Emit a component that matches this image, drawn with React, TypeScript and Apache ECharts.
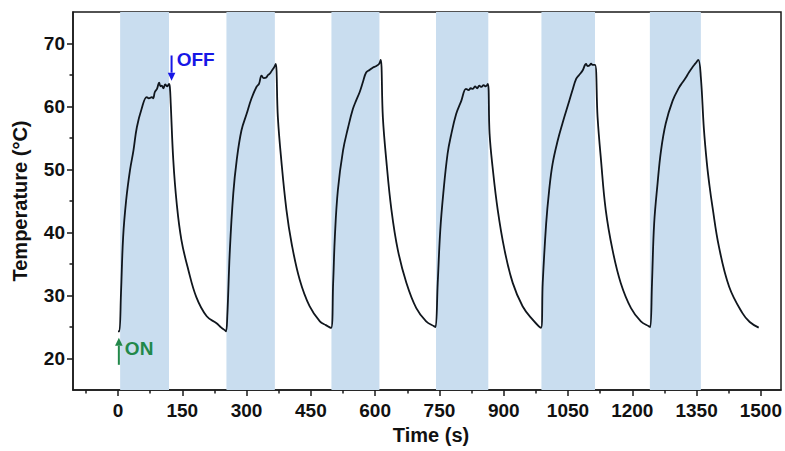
import React, { useEffect, useRef } from "react";
import * as echarts from "echarts";

// Measured temperature trace (s, °C)
const timeS = [
  0, 3, 7, 12, 19, 28, 36, 44, 55, 67, 72, 79, 82, 86, 91, 96, 99, 102, 106, 110, 115, 119, 121,
  123, 129, 137, 148, 164, 183, 207, 230, 241, 249, 252,
  255, 261, 269, 277, 288, 300, 311, 323, 329, 335, 340, 346, 350, 354, 360, 364, 368,
  373, 381, 393, 405, 424, 447, 471, 485, 497,
  502, 506, 513, 525, 537, 548, 556, 564, 572, 579, 587, 595, 602, 609, 613,
  618, 626, 638, 653, 673, 696, 719, 738, 741,
  746, 752, 759, 769, 777, 789, 801, 812, 818, 823, 828, 833, 838, 843, 848, 853, 858, 863,
  867, 874, 886, 902, 921, 944, 967, 987,
  991, 999, 1006, 1014, 1026, 1037, 1053, 1060, 1069, 1076, 1084, 1092, 1096, 1100, 1104, 1107, 1113,
  1119, 1127, 1138, 1154, 1173, 1197, 1220, 1239,
  1242, 1246, 1251, 1259, 1267, 1278, 1294, 1309, 1317, 1325, 1332, 1340, 1347, 1354,
  1360, 1367, 1374, 1380, 1387, 1402, 1426, 1457, 1474, 1495
];
const tempC = [
  24.3, 24.3, 30.4, 39.3, 45.1, 49.9, 53.0, 56.7, 59.6, 61.5, 61.3, 61.5, 61.3, 62.3, 62.8, 63.8, 63.2, 63.3, 62.9, 63.5, 63.2, 63.6, 63.1,
  60.5, 51.5, 44.6, 38.8, 34.1, 29.7, 26.7, 25.6, 24.9, 24.5, 24.3,
  26.7, 37.2, 46.2, 51.5, 56.2, 58.8, 61.2, 63.1, 63.6, 64.9, 64.5, 64.6, 65.0, 65.2, 65.8, 66.2, 66.75,
  58.3, 51.5, 43.6, 38.3, 32.5, 28.3, 25.9, 25.3, 24.85,
  32.0, 39.3, 46.7, 53.0, 56.7, 59.6, 61.0, 62.3, 64.0, 65.4, 65.8, 66.2, 66.4, 66.75, 67.4,
  58.3, 51.5, 43.6, 37.2, 32.0, 28.0, 25.9, 25.1, 25.0,
  32.0, 40.4, 46.2, 52.5, 55.4, 58.8, 60.9, 62.8, 62.6, 62.9, 62.8, 63.2, 62.9, 63.3, 63.1, 63.4, 63.2, 63.6,
  55.7, 50.4, 43.6, 37.2, 32.0, 28.3, 26.2, 24.85,
  32.0, 41.4, 46.7, 50.9, 54.6, 57.3, 60.9, 62.5, 64.4, 65.0, 65.7, 66.75, 66.4, 66.5, 66.8, 66.6, 66.6,
  58.3, 51.5, 43.6, 37.2, 32.0, 28.0, 25.9, 25.1,
  25.0, 32.0, 41.4, 47.8, 53.0, 57.3, 60.9, 63.0, 63.8, 64.6, 65.4, 66.2, 66.8, 67.4,
  64.6, 56.5, 51.0, 47.5, 44.1, 37.8, 31.4, 27.2, 25.8, 24.9
];

// Laser ON intervals (s)
const onStart = [5, 253, 498, 742, 988, 1241];
const onEnd = [119, 366, 610, 864, 1113, 1360];

// Axis ticks
const xTicks = [0, 150, 300, 450, 600, 750, 900, 1050, 1200, 1350, 1500];
const xMinorTicks = [-75, 75, 225, 375, 525, 675, 825, 975, 1125, 1275, 1425];
const yTicks = [20, 30, 40, 50, 60, 70];
const yMinorTicks = [25, 35, 45, 55, 65];

// Annotations (data coordinates)
const onArrow = { t: 2, from: 19.0, to: 23.3 };
const offArrow = { t: 125, from: 68.1, to: 64.1 };
const onLabel = { t: 16, temp: 21.6, text: "ON" };
const offLabel = { t: 137, temp: 67.5, text: "OFF" };

const FONT = "'Liberation Sans', Arial, Helvetica, sans-serif";
const AX = "#1a1a1a";

export default function App() {
  const ref = useRef<HTMLDivElement>(null);

  useEffect(() => {
    if (!ref.current) return;
    const chart = echarts.init(ref.current, null, { renderer: "svg" });
    const data = timeS.map((t, i) => [t, tempC[i]]);
    const bands = onStart.map((s, i) => [{ xAxis: s }, { xAxis: onEnd[i] }]);
    const plain = (v: number) => String(v);

    chart.setOption({
      animation: false,
      backgroundColor: "#ffffff",
      grid: {
        left: 73,
        right: 3,
        top: 12,
        bottom: 61,
        show: true,
        borderColor: AX,
        borderWidth: 1.5,
        backgroundColor: "transparent",
      },
      xAxis: [
        {
          type: "value",
          min: -105,
          max: 1547,
          name: "Time (s)",
          nameLocation: "middle",
          nameGap: 33,
          nameTextStyle: { fontSize: 20, fontWeight: "bold", color: "#111", fontFamily: FONT, padding: [0, 0, 0, 8] },
          axisLine: { show: true, onZero: false, lineStyle: { color: AX, width: 1.5 } },
          axisTick: { show: true, customValues: xTicks, length: 6, lineStyle: { color: AX, width: 1.5 } },
          axisLabel: { customValues: xTicks, formatter: plain, fontSize: 19, fontWeight: "bold", color: "#111", fontFamily: FONT, margin: 11 },
          splitLine: { show: false },
        },
        {
          type: "value",
          min: -105,
          max: 1547,
          position: "bottom",
          axisLine: { show: false, onZero: false },
          axisTick: { show: true, customValues: xMinorTicks, length: 3.5, lineStyle: { color: AX, width: 1.5 } },
          axisLabel: { show: false },
          splitLine: { show: false },
        },
      ],
      yAxis: [
        {
          type: "value",
          min: 15,
          max: 75,
          name: "Temperature (°C)",
          nameLocation: "middle",
          nameGap: 43,
          nameTextStyle: { fontSize: 20, fontWeight: "bold", color: "#111", fontFamily: FONT },
          axisLine: { show: true, onZero: false, lineStyle: { color: AX, width: 1.5 } },
          axisTick: { show: true, customValues: yTicks, length: 6, lineStyle: { color: AX, width: 1.5 } },
          axisLabel: { customValues: yTicks, formatter: plain, fontSize: 19, fontWeight: "bold", color: "#111", fontFamily: FONT, margin: 8 },
          splitLine: { show: false },
        },
        {
          type: "value",
          min: 15,
          max: 75,
          position: "left",
          axisLine: { show: false, onZero: false },
          axisTick: { show: true, customValues: yMinorTicks, length: 3.5, lineStyle: { color: AX, width: 1.5 } },
          axisLabel: { show: false },
          splitLine: { show: false },
        },
      ],
      series: [
        {
          type: "line",
          xAxisIndex: 0,
          yAxisIndex: 0,
          data: [],
          silent: true,
          z: 1,
          markArea: {
            silent: true,
            itemStyle: { color: "#c9ddef" },
            data: bands,
          },
        },
        {
          type: "line",
          xAxisIndex: 0,
          yAxisIndex: 0,
          data,
          showSymbol: false,
          symbol: "none",
          smooth: 0.4,
          z: 5,
          lineStyle: { color: "#10161d", width: 1.8 },
        },
      ],
    });

    const px = (t: number, v: number) => chart.convertToPixel({ xAxisIndex: 0, yAxisIndex: 0 }, [t, v]) as number[];
    const graphics: any[] = [];
    const arrow = (a: { t: number; from: number; to: number }, color: string) => {
      const b = px(a.t, a.from);
      const tip = px(a.t, a.to);
      const dir = tip[1] < b[1] ? 1 : -1;
      const headBase = tip[1] + dir * 8;
      graphics.push({
        type: "line",
        shape: { x1: b[0], y1: b[1], x2: tip[0], y2: headBase },
        style: { stroke: color, lineWidth: 2 },
        z: 10,
      });
      graphics.push({
        type: "polygon",
        shape: { points: [[tip[0] - 3.8, headBase], [tip[0] + 3.8, headBase], [tip[0], tip[1]]] },
        style: { fill: color },
        z: 10,
      });
    };
    arrow(onArrow, "#22884a");
    arrow(offArrow, "#1717e6");
    const lbl = (l: { t: number; temp: number; text: string }, color: string) => {
      const p = px(l.t, l.temp);
      graphics.push({
        type: "text",
        x: p[0],
        y: p[1],
        z: 10,
        style: {
          text: l.text,
          fill: color,
          font: `bold 19px ${FONT}`,
          textAlign: "left",
          textVerticalAlign: "middle",
          verticalAlign: "middle",
        },
      });
    };
    lbl(onLabel, "#22884a");
    lbl(offLabel, "#1717e6");
    chart.setOption({ graphic: graphics });

    return () => chart.dispose();
  }, []);

  return <div ref={ref} style={{ position: "fixed", left: 0, top: 0, width: 785, height: 451 }} />;
}
